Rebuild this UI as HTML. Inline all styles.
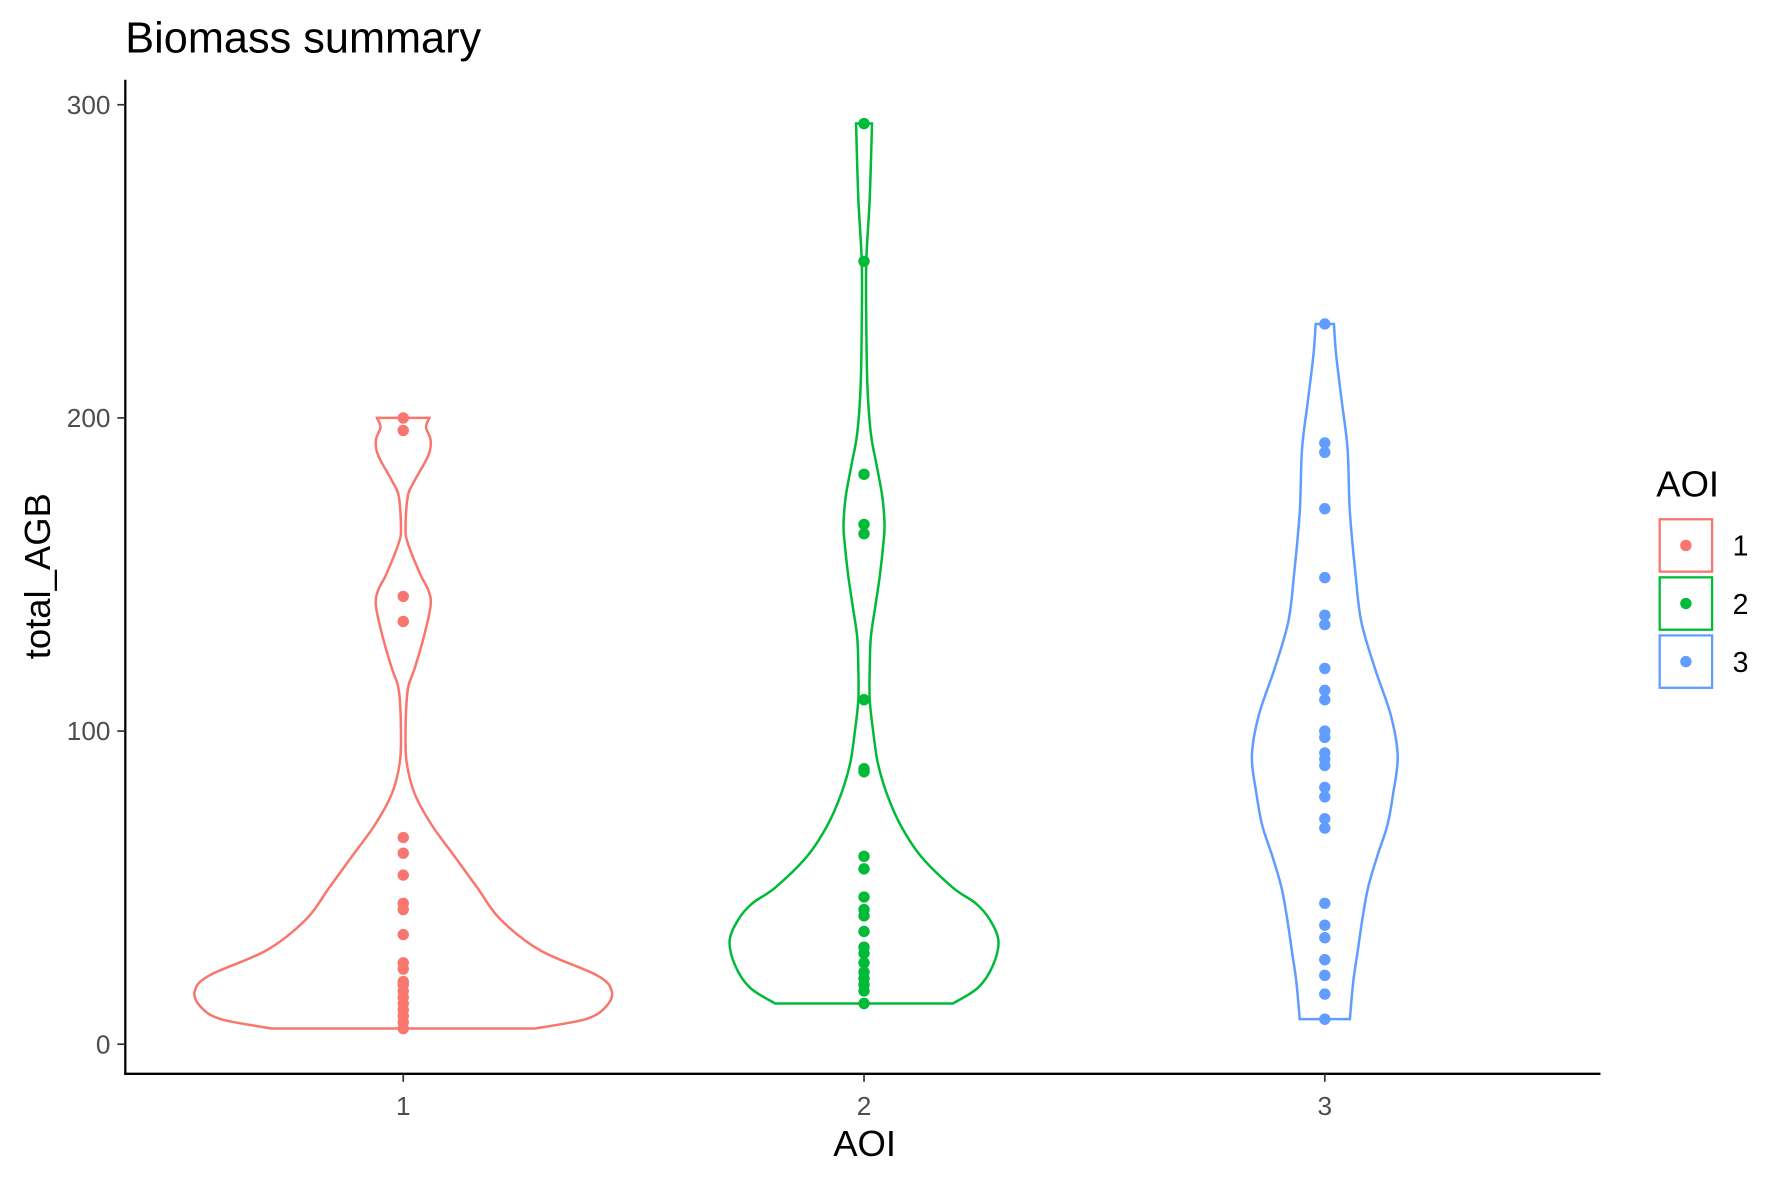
<!DOCTYPE html>
<html><head><meta charset="utf-8"><style>html,body{margin:0;padding:0;background:#fff}svg{display:block}text{font-family:"Liberation Sans",Arial,sans-serif}</style></head>
<body>
<svg id="chart" width="1785" height="1182" viewBox="0 0 1567 1038" preserveAspectRatio="none" xmlns="http://www.w3.org/2000/svg">
<rect width="1567" height="1038" fill="#fff"/>
<text x="110" y="46" font-size="38" fill="#000">Biomass summary</text>
<g id="plot"></g>
<line x1="110" y1="70" x2="110" y2="944" stroke="#000" stroke-width="2"/>
<line x1="109" y1="943" x2="1405" y2="943" stroke="#000" stroke-width="2"/>
<g id="axes"></g>
<text x="759" y="1015" font-size="32" text-anchor="middle">AOI</text>
<text transform="translate(44,506) rotate(-90)" font-size="32" text-anchor="middle">total_AGB</text>
<g id="legend">
<text x="1454" y="436" font-size="32">AOI</text>
</g>
</svg>
<script>
const categories = ["1","2","3"];
const colors = ["#F8766D","#00BA38","#619CFF"];
const yTicks = [0,100,200,300];
const points1 = [200,196,143,135,66,61,54,45,43,35,26,24,20,19,17,15,13,11,9,7,5];
const points2 = [294,250,182,166,163,110,88,87,60,56,47,43,41,36,31,29,26,23,21,19,17,13];
const points3 = [230,192,189,171,149,137,134,120,113,110,100,98,93,91,89,82,79,72,69,45,38,34,27,22,16,8];
const densVals1 = [5,8,12,17,22,30,40,50,60,70,80,90,100,110,115,120,130,140,145,150,160,165,175,180,188,193,197,200];
const densW1 = [115,160,178,183,170,120,85,65,45,25,10,3,2,3,5,10,18,24,22,15,4,2,4,10,22,24,20,23];
const densVals2 = [13,18,25,33,40,45,50,60,70,80,90,100,110,120,130,140,150,160,166,175,185,195,210,230,250,270,294];
const densW2 = [78,100,113,118,110,98,78,50,32,20,12,8,5,5,6,10,14,17,18,16,11,6,3,2,2,5,7];
const densVals3 = [8,20,30,40,50,60,70,80,92,105,120,135,150,170,190,205,220,230];
const densW3 = [22,25,29,33,38,46,55,60,64,58,44,32,27,22,20,15,10,8];

const NS="http://www.w3.org/2000/svg";
const y = v => 917 - v*2.75;
const x = i => 354 + i*404.5;
function mk(tag, attrs, parent){const e=document.createElementNS(NS,tag);for(const k in attrs)e.setAttribute(k,attrs[k]);parent.appendChild(e);return e;}
function smooth(pts){
  let d=`M${pts[0][0]},${pts[0][1]}`;
  for(let i=0;i<pts.length-1;i++){
    const p0=pts[Math.max(i-1,0)],p1=pts[i],p2=pts[i+1],p3=pts[Math.min(i+2,pts.length-1)];
    const c1=[p1[0]+(p2[0]-p0[0])/6,p1[1]+(p2[1]-p0[1])/6];
    const c2=[p2[0]-(p3[0]-p1[0])/6,p2[1]-(p3[1]-p1[1])/6];
    d+=` C${c1[0]},${c1[1]} ${c2[0]},${c2[1]} ${p2[0]},${p2[1]}`;
  }
  return d;
}
const plot=document.getElementById('plot');
const axes=document.getElementById('axes');
const legend=document.getElementById('legend');
const allPts=[points1,points2,points3];
const allV=[densVals1,densVals2,densVals3];
const allW=[densW1,densW2,densW3];
for(let g=0;g<3;g++){
  const cx=x(g), vals=allV[g], w=allW[g];
  const right=vals.map((v,i)=>[cx+w[i],y(v)]);
  const left=vals.map((v,i)=>[cx-w[i],y(v)]).reverse();
  let d=smooth(right);
  d+=` L${left[0][0]},${left[0][1]}`+smooth(left).replace(/^M[^ ]+/,'');
  d+=' Z';
  const p=mk('path',{d:d,fill:'none',stroke:colors[g],'stroke-width':2.2},plot);
  
  
  allPts[g].forEach(v=>{
    const c=mk('circle',{cx:cx,cy:y(v),r:5,fill:colors[g]},plot);
    
    
  });
  mk('line',{x1:cx,y1:943,x2:cx,y2:950,stroke:'#333','stroke-width':1.5},axes);
  const t=mk('text',{x:cx,y:979,'font-size':23,'text-anchor':'middle',fill:'#4d4d4d'},axes);
  t.textContent=categories[g];
  
  
  const ky=456+g*51;
  const r=mk('rect',{x:1457,y:ky,width:46,height:46,fill:'#fff',stroke:colors[g],'stroke-width':2},legend);
  
  
  mk('circle',{cx:1480,cy:ky+23,r:5,fill:colors[g]},legend);
  const lt=mk('text',{x:1521,y:ky+32,'font-size':25,fill:'#000'},legend);
  lt.textContent=categories[g];
  
  
}
yTicks.forEach(v=>{
  mk('line',{x1:103,y1:y(v),x2:110,y2:y(v),stroke:'#333','stroke-width':1.5},axes);
  const t=mk('text',{x:97,y:y(v)+8,'font-size':23,'text-anchor':'end',fill:'#4d4d4d'},axes);
  t.textContent=v;
  
  
});
</script>
</body></html>
